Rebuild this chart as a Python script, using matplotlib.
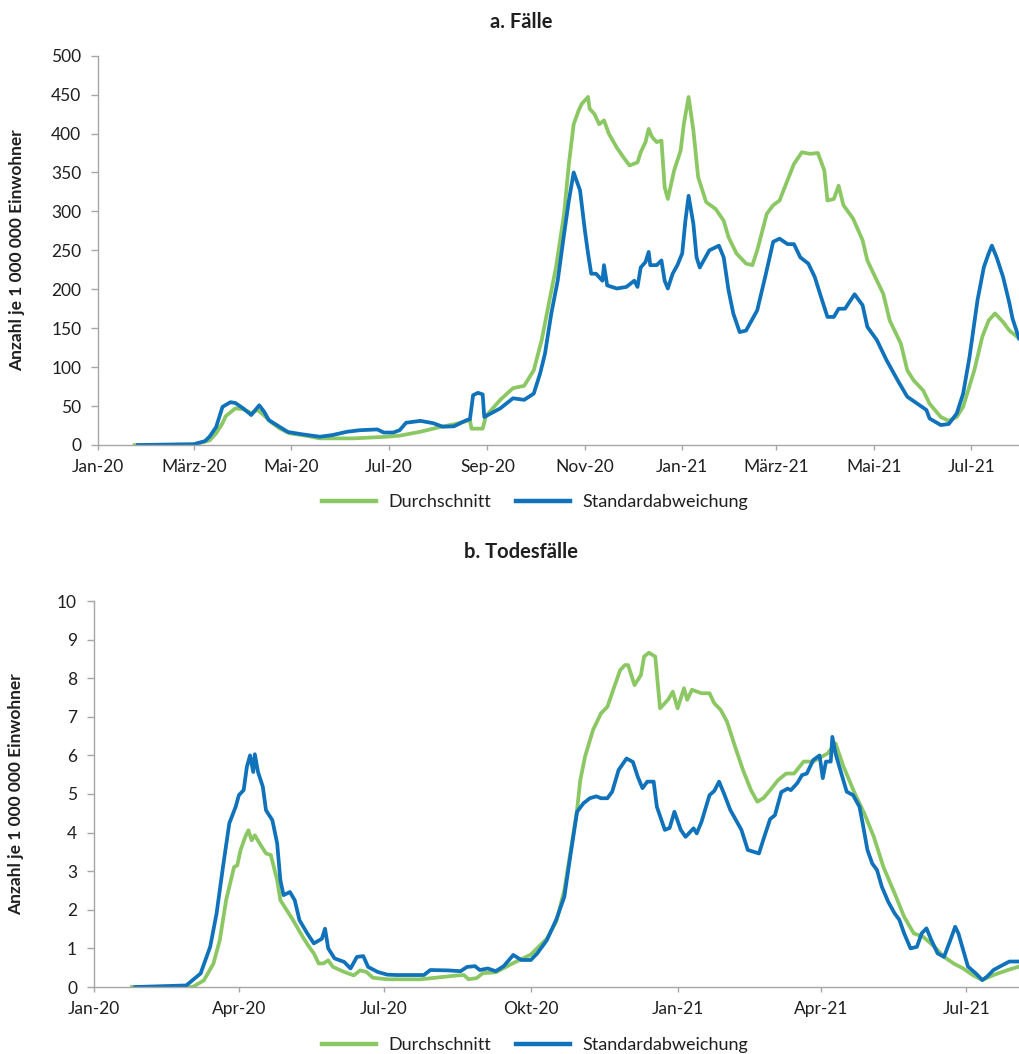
import numpy as np
import matplotlib
matplotlib.use("Agg")
import matplotlib.pyplot as plt

plt.rcParams['font.family'] = ['Lato', 'DejaVu Sans']

# ---------------- data (days since 2020-01-01) ----------------
cases_mean_days = [23, 60, 70, 74, 78, 80, 86, 91, 96, 100, 103, 108, 114, 120, 127, 139, 160, 181, 189,
                   202, 214, 224, 233, 234, 241, 243, 252, 260, 267, 273, 278, 282, 287, 292, 295, 298,
                   301, 303, 307, 308, 311, 314, 317, 320, 325, 329, 333, 338, 340, 343, 345, 347, 350,
                   353, 355, 357, 361, 365, 367, 370, 373, 376, 381, 387, 392, 395, 400, 406, 410, 413,
                   419, 423, 427, 431, 436, 441, 446, 451, 455, 457, 461, 464, 467, 473, 479, 482, 488,
                   492, 496, 503, 507, 511, 517, 521, 528, 533, 538, 542, 549, 554, 558, 562, 567, 571, 577]
cases_mean = [0, 0.5, 6, 15, 28, 37, 47, 46, 41, 45, 40, 30, 21, 15, 13, 8.5, 8.5, 10.6, 12,
              17, 23, 27, 32, 21, 21, 37, 58, 73, 76, 96, 135, 177, 229, 297, 361, 412,
              429, 438, 447, 432, 425, 412, 417, 400, 382, 370, 359, 363, 376, 389, 406, 396, 389,
              391, 331, 316, 353, 378, 412, 447, 404, 344, 312, 303, 288, 267, 246, 233, 231, 250,
              297, 308, 314, 335, 361, 376, 374, 375, 353, 314, 316, 333, 308, 291, 263, 237, 211,
              194, 160, 130, 96, 83, 70, 53, 36, 31, 36, 49, 96, 139, 160, 169, 158, 147, 137]

cases_sd_days = [25, 60, 67, 70, 74, 78, 83, 86, 91, 96, 101, 104, 107, 114, 119, 127, 139, 147, 156,
                 164, 175, 179, 185, 189, 193, 202, 210, 216, 223, 231, 233, 235, 238, 241, 242, 252,
                 260, 267, 273, 277, 280, 284, 288, 292, 295, 298, 302, 305, 307, 309, 312, 316, 317,
                 319, 325, 331, 336, 338, 340, 343, 345, 346, 350, 353, 355, 357, 360, 363, 366, 368,
                 370, 373, 375, 377, 383, 389, 392, 395, 398, 402, 406, 413, 418, 423, 427, 432, 436,
                 440, 445, 449, 453, 457, 461, 464, 468, 474, 479, 482, 488, 494, 501, 507, 513, 519,
                 521, 528, 533, 538, 542, 546, 551, 555, 558, 560, 563, 567, 571, 573, 577]
cases_sd = [0, 1, 5, 11, 23, 49, 55, 54, 47, 38.5, 51, 43, 32, 23, 16.7, 14, 10.6, 12.8, 17,
            19, 20, 16, 16, 19, 28.6, 31, 28, 23.5, 24, 32, 33, 64, 67, 65, 36, 47,
            60, 58, 66, 92, 117, 169, 211, 271, 314, 350, 327, 276, 246, 220, 220, 211, 231,
            205, 201, 203, 211, 203, 228, 235, 248, 231, 231, 237, 211, 201, 220, 231, 246, 288,
            320, 284, 241, 228, 250, 256, 241, 199, 169, 145, 147, 173, 216, 261, 265, 258, 258,
            241, 233, 216, 190, 164.5, 164.5, 175, 175, 193.6, 179.5, 151.7, 134.6, 109, 83, 62, 53.5, 45,
            34, 25.6, 27, 40.5, 66, 113, 186, 228.6, 246, 256, 241, 216, 182, 162, 137]

deaths_mean_days = [24, 62, 69, 75, 79, 83, 88, 90, 92, 95, 97, 99, 101, 104, 108, 111, 115, 117, 121,
                    125, 131, 135, 138, 141, 144, 147, 150, 157, 163, 167, 171, 175, 184, 205, 228, 232,
                    235, 240, 244, 252, 263, 274, 284, 290, 295, 299, 303, 305, 308, 313, 318, 322, 326,
                    330, 333, 335, 339, 343, 345, 348, 352, 355, 360, 363, 366, 370, 372, 375, 381, 386,
                    389, 393, 397, 402, 407, 412, 416, 420, 424, 429, 434, 439, 445, 451, 460, 465, 470,
                    477, 483, 489, 495, 502, 508, 514, 520, 527, 533, 539, 545, 551, 557, 564, 573, 580]
deaths_mean = [0, 0, 0.17, 0.6, 1.21, 2.25, 3.11, 3.15, 3.54, 3.89, 4.06, 3.8, 3.93, 3.72, 3.46, 3.42, 2.77, 2.25, 1.99,
               1.73, 1.3, 1.04, 0.87, 0.61, 0.61, 0.69, 0.52, 0.39, 0.3, 0.43, 0.39, 0.24, 0.2, 0.2, 0.3, 0.31,
               0.2, 0.23, 0.36, 0.38, 0.62, 0.84, 1.25, 1.7, 2.51, 3.54, 4.59, 5.36, 5.97, 6.66, 7.09, 7.26, 7.74,
               8.21, 8.34, 8.34, 7.82, 8.08, 8.56, 8.66, 8.56, 7.22, 7.44, 7.65, 7.22, 7.74, 7.44, 7.7, 7.61, 7.61,
               7.35, 7.18, 6.87, 6.23, 5.62, 5.1, 4.8, 4.9, 5.1, 5.36, 5.53, 5.53, 5.84, 5.84, 6.05, 6.31, 5.71,
               5.02, 4.5, 3.89, 3.11, 2.43, 1.82, 1.39, 1.3, 1.04, 0.78, 0.61, 0.48, 0.31, 0.18, 0.31, 0.44, 0.53]

deaths_sd_days = [26, 58, 67, 73, 77, 81, 85, 89, 91, 94, 96, 98, 100, 101, 103, 106, 108, 112, 115,
                  117, 119, 123, 126, 129, 134, 138, 143, 145, 147, 151, 157, 161, 165, 169, 172, 178,
                  184, 190, 207, 211, 222, 230, 234, 239, 242, 247, 252, 257, 263, 268, 274, 278, 284,
                  290, 295, 299, 303, 307, 311, 315, 318, 322, 325, 329, 334, 338, 341, 344, 347, 351,
                  353, 358, 361, 364, 368, 371, 376, 378, 381, 386, 389, 392, 395, 399, 406, 410, 414,
                  417, 420, 424, 427, 431, 435, 437, 441, 444, 447, 451, 455, 457, 459, 462, 463, 465,
                  468, 472, 476, 480, 482, 485, 488, 491, 494, 498, 502, 505, 508, 512, 516, 519, 522,
                  525, 529, 533, 537, 540, 542, 545, 548, 553, 557, 560, 564, 568, 574, 580]
deaths_sd = [0, 0.04, 0.35, 1.04, 1.9, 3.1, 4.24, 4.67, 4.97, 5.1, 5.7, 6.0, 5.57, 6.03, 5.57, 5.19, 4.58, 4.32, 3.72,
             2.77, 2.38, 2.46, 2.25, 1.73, 1.38, 1.13, 1.25, 1.51, 1.0, 0.74, 0.65, 0.48, 0.78, 0.8, 0.52, 0.39,
             0.32, 0.31, 0.31, 0.44, 0.43, 0.41, 0.52, 0.54, 0.44, 0.48, 0.41, 0.54, 0.83, 0.7, 0.7, 0.87, 1.21,
             1.75, 2.34, 3.46, 4.54, 4.76, 4.89, 4.94, 4.89, 4.89, 5.06, 5.62, 5.92, 5.83, 5.45, 5.15, 5.32, 5.32,
             4.67, 4.07, 4.12, 4.54, 4.07, 3.89, 4.11, 3.98, 4.28, 4.97, 5.08, 5.32, 5.02, 4.59, 4.07, 3.55, 3.5,
             3.46, 3.85, 4.35, 4.45, 5.05, 5.14, 5.1, 5.28, 5.49, 5.53, 5.88, 6.0, 5.41, 5.84, 5.84, 6.48, 6.05,
             5.62, 5.06, 4.97, 4.67, 4.24, 3.55, 3.2, 3.03, 2.6, 2.21, 1.91, 1.74, 1.39, 1.0, 1.04, 1.39, 1.52,
             1.22, 0.87, 0.78, 1.22, 1.56, 1.39, 0.96, 0.53, 0.35, 0.18, 0.27, 0.44, 0.53, 0.66, 0.66]

top_ticks = ['2020-01-01', '2020-03-01', '2020-05-01', '2020-07-01', '2020-09-01', '2020-11-01',
             '2021-01-01', '2021-03-01', '2021-05-01', '2021-07-01']
top_ticklabels = ['Jan-20', 'März-20', 'Mai-20', 'Jul-20', 'Sep-20', 'Nov-20',
                  'Jan-21', 'März-21', 'Mai-21', 'Jul-21']
bot_ticks = ['2020-01-01', '2020-04-01', '2020-07-01', '2020-10-01', '2021-01-01', '2021-04-01', '2021-07-01']
bot_ticklabels = ['Jan-20', 'Apr-20', 'Jul-20', 'Okt-20', 'Jan-21', 'Apr-21', 'Jul-21']

series_names = ['Durchschnitt', 'Standardabweichung']
titles = ['a. Fälle', 'b. Todesfälle']
ylabel = 'Anzahl je 1 000 000 Einwohner'

GREEN = '#8BC763'
BLUE = '#0F72BA'
SPINE = '#A6A6A6'
TXT = '#1F1F1F'

base = np.datetime64('2020-01-01')


def to_dates(days):
    return base + np.array(days, dtype='timedelta64[D]')


W, H = 1019, 1054
fig = plt.figure(figsize=(W / 100, H / 100), dpi=100)

ax1 = fig.add_axes([98 / W, 1 - 445 / H, (1019 - 98) / W, (445 - 55.7) / H])
ax2 = fig.add_axes([93.7 / W, 1 - 987 / H, (1019 - 93.7) / W, (987 - 601) / H])


def style(ax, ticks, labels, ymax, ystep):
    for s in ['top', 'right']:
        ax.spines[s].set_visible(False)
    for s in ['left', 'bottom']:
        ax.spines[s].set_color(SPINE)
        ax.spines[s].set_linewidth(1.0)
    ax.set_ylim(0, ymax)
    ax.set_yticks(np.arange(0, ymax + ystep / 2, ystep))
    ax.set_xticks([np.datetime64(t) for t in ticks])
    ax.set_xticklabels(labels)
    ax.tick_params(axis='y', length=5, width=1, color=SPINE, pad=7, labelsize=12.5, labelcolor=TXT)
    ax.tick_params(axis='x', length=3.5, width=1, color=SPINE, pad=6.5, labelsize=12.5, labelcolor=TXT)
    ax.set_ylabel(ylabel, fontsize=12.5, fontweight='bold', color=TXT)


ax1.plot(to_dates(cases_mean_days), cases_mean, color=GREEN, lw=2.7, label=series_names[0],
         solid_joinstyle='round')
ax1.plot(to_dates(cases_sd_days), cases_sd, color=BLUE, lw=2.7, label=series_names[1],
         solid_joinstyle='round')
ax1.set_xlim(base, base + np.timedelta64(577, 'D'))
style(ax1, top_ticks, top_ticklabels, 500, 50)
ax1.yaxis.set_label_coords(-(98 - 25) / (1019 - 98), 0.5)

ax2.plot(to_dates(deaths_mean_days), deaths_mean, color=GREEN, lw=2.7, label=series_names[0],
         solid_joinstyle='round')
ax2.plot(to_dates(deaths_sd_days), deaths_sd, color=BLUE, lw=2.7, label=series_names[1],
         solid_joinstyle='round')
ax2.set_xlim(base, base + np.timedelta64(580, 'D'))
style(ax2, bot_ticks, bot_ticklabels, 10, 1)
ax2.yaxis.set_label_coords(-(93.7 - 24) / (1019 - 93.7), 0.5)

fig.text(521 / W, 1 - 22 / H, titles[0], ha='center', va='center', fontsize=14.5,
         fontweight='bold', color=TXT)
fig.text(521 / W, 1 - 552 / H, titles[1], ha='center', va='center', fontsize=14.5,
         fontweight='bold', color=TXT)

for ax, yc in [(ax1, 502), (ax2, 1045)]:
    h, l = ax.get_legend_handles_labels()
    fig.legend(h, l, loc='center', bbox_to_anchor=(535 / W, 1 - yc / H), ncol=2, frameon=False,
               fontsize=13, handlelength=3.0, handletextpad=0.65, columnspacing=1.4,
               borderaxespad=0, borderpad=0, labelcolor=TXT)
    for line in fig.legends[-1].get_lines():
        line.set_linewidth(3.2)

fig.savefig('out.png', dpi=100)
